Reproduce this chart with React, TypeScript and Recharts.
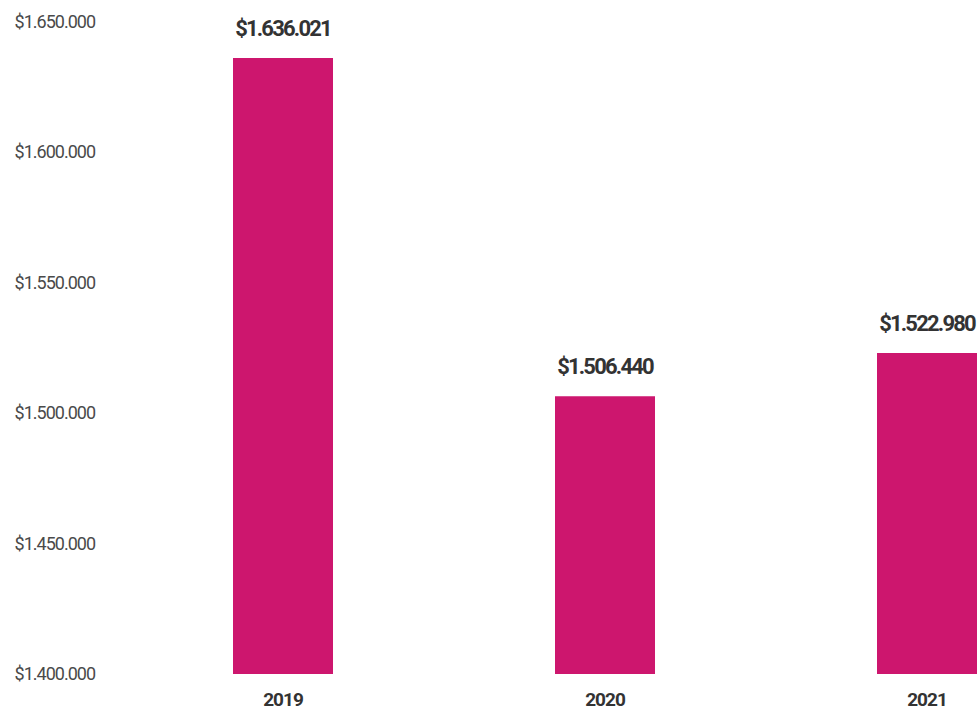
import React from "react";
import { BarChart, Bar, XAxis, YAxis, LabelList } from "recharts";

const years = ["2019", "2020", "2021"];
const amounts = [1636021, 1506440, 1522980];
const yTicks = [1400000, 1450000, 1500000, 1550000, 1600000, 1650000];

const data = years.map((year, i) => ({ year, amount: amounts[i] }));

const money = (v: number) =>
  "$" + String(Math.round(v)).replace(/\B(?=(\d{3})+(?!\d))/g, ".");

const font = "Roboto, 'Noto Sans', sans-serif";

export default function App() {
  // the plot runs past the right edge in the original, so clip it to the window
  return (
    <div
      style={{
        position: "fixed",
        top: 0,
        left: 0,
        width: 979,
        height: 712,
        overflow: "hidden",
        background: "#fff",
      }}
    >
      <BarChart
        width={1088}
        height={712}
        data={data}
        margin={{ top: 21.5, right: 0, bottom: 0, left: 0 }}
      >
        <XAxis
          dataKey="year"
          axisLine={false}
          tickLine={false}
          tickSize={0}
          tickMargin={19}
          height={38}
          tick={{
            fill: "#333",
            fontSize: 19,
            fontWeight: 700,
            fontFamily: font,
            letterSpacing: -1,
          }}
        />
        <YAxis
          domain={[1400000, 1650000]}
          ticks={yTicks}
          allowDataOverflow
          axisLine={false}
          tickLine={false}
          tickSize={0}
          tickMargin={27}
          width={122}
          tickFormatter={money}
          tick={{
            fill: "#4a4a4a",
            fontSize: 18,
            fontFamily: font,
            letterSpacing: -1,
          }}
        />
        <Bar dataKey="amount" fill="#cd166e" barSize={100} isAnimationActive={false}>
          <LabelList
            dataKey="amount"
            position="top"
            offset={22}
            formatter={(v: any) => money(Number(v))}
            style={{
              fill: "#333",
              fontSize: 22,
              fontWeight: 700,
              fontFamily: font,
              letterSpacing: -1.8,
            }}
          />
        </Bar>
      </BarChart>
    </div>
  );
}
